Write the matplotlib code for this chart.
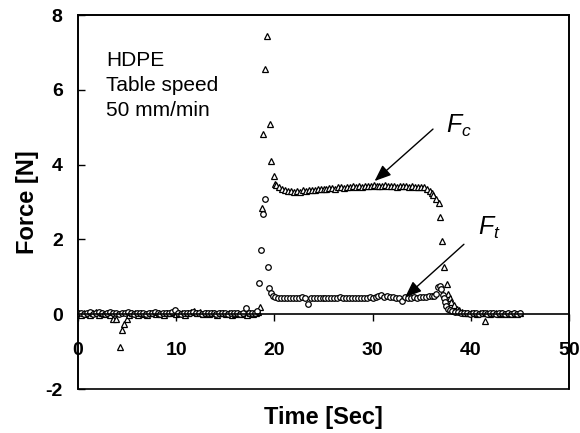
import matplotlib

matplotlib.use("Agg")
import matplotlib.pyplot as plt
from matplotlib.patches import Rectangle

plt.rcParams["font.family"] = ["Liberation Sans", "DejaVu Sans"]
plt.rcParams["mathtext.fontset"] = "custom"
plt.rcParams["mathtext.it"] = "Liberation Sans:italic"
plt.rcParams["mathtext.rm"] = "Liberation Sans"
plt.rcParams["axes.unicode_minus"] = False

# cutting force Fc (triangles)
fc_time = [
    0.0, 0.3, 0.6, 0.9, 1.2, 1.5, 1.8, 2.1, 2.4, 2.7, 3.0, 3.3,
    3.6, 3.9, 4.3, 4.45, 4.7, 4.95, 5.2,
    5.5, 5.8, 6.1, 6.4, 6.7, 7.0, 7.3, 7.6, 7.9, 8.2,
    8.5, 8.8, 9.1, 9.4, 9.7, 10.0, 10.3, 10.6, 10.9, 11.2,
    11.5, 11.8, 12.1, 12.4, 12.7, 13.0, 13.3, 13.6, 13.9, 14.2,
    14.5, 14.8, 15.1, 15.4, 15.7, 16.0, 16.3, 16.6, 16.9, 17.2,
    17.5, 17.8, 18.1,
    18.3, 18.53, 18.7, 18.8, 19.07, 19.28, 19.52, 19.65, 19.93, 20.03,
    20.2, 20.5, 20.8, 21.1, 21.4, 21.7, 22.0, 22.3, 22.6, 22.9,
    23.2, 23.5, 23.8, 24.1, 24.4, 24.7, 25.0, 25.3, 25.6, 25.9,
    26.2, 26.5, 26.8, 27.1, 27.4, 27.7, 28.0, 28.3, 28.6, 28.9,
    29.2, 29.5, 29.8, 30.1, 30.4, 30.7, 31.0, 31.3, 31.6, 31.9,
    32.2, 32.5, 32.8, 33.1, 33.4, 33.7, 34.0, 34.3, 34.6, 34.9,
    35.2, 35.5, 35.8,
    36.0, 36.2, 36.5, 36.75, 36.86, 37.1, 37.3, 37.6, 37.7, 37.85,
    38.0, 38.3, 38.55, 38.8, 39.1, 39.4,
    39.7, 40.0, 40.3, 40.6, 40.9, 41.2, 41.45, 41.7, 42.0, 42.3,
    42.6, 42.9, 43.2, 43.5, 43.8, 44.1, 44.4, 44.7, 45.0,
]
fc_force = [
    0.03, -0.02, 0.04, 0.01, -0.03, 0.02, 0.05, -0.01, 0.02, 0.00, 0.04, -0.02,
    -0.12, -0.12, -0.88, -0.43, -0.27, -0.13, -0.02,
    0.02, 0.04, -0.01, 0.03, 0.01, -0.02, 0.03, 0.02, 0.00, 0.04,
    0.01, -0.02, 0.03, 0.02, 0.05, 0.00, 0.02, 0.04, -0.01, 0.03,
    0.06, 0.09, 0.03, 0.05, 0.01, 0.03, 0.00, 0.02, 0.04, -0.01,
    0.02, 0.03, 0.00, 0.02, -0.02, 0.01, 0.03, 0.00, 0.02, -0.01,
    0.02, 0.00, 0.03,
    0.05, 0.20, 2.83, 4.83, 6.55, 7.44, 5.08, 4.09, 3.70, 3.49,
    3.45, 3.40, 3.36, 3.33, 3.30, 3.29, 3.27, 3.29, 3.28, 3.31,
    3.30, 3.32, 3.33, 3.32, 3.35, 3.34, 3.36, 3.35, 3.37, 3.38,
    3.36, 3.39, 3.40, 3.38, 3.41, 3.40, 3.42, 3.41, 3.43, 3.40,
    3.42, 3.44, 3.43, 3.45, 3.42, 3.44, 3.43, 3.45, 3.42, 3.44,
    3.43, 3.41, 3.44, 3.42, 3.43, 3.41, 3.42, 3.40, 3.41, 3.39,
    3.40, 3.36, 3.30,
    3.24, 3.18, 3.08, 2.97, 2.60, 1.96, 1.27, 0.82, 0.53, 0.42,
    0.33, 0.24, 0.15, 0.10, 0.06, 0.04,
    0.03, 0.02, 0.04, 0.01, 0.03, 0.02, -0.18, 0.03, 0.01, 0.04,
    0.02, 0.00, 0.03, 0.01, 0.02, 0.00, 0.02, 0.01, 0.02,
]

# thrust force Ft (circles)
ft_time = [
    0.0, 0.3, 0.6, 0.9, 1.2, 1.5, 1.8, 2.1, 2.4, 2.7,
    3.0, 3.3, 3.6, 3.9, 4.2, 4.5, 4.8, 5.1, 5.4, 5.7,
    6.0, 6.3, 6.6, 6.9, 7.2, 7.5, 7.8, 8.1, 8.4, 8.7,
    9.0, 9.3, 9.6, 9.9, 10.2, 10.5, 10.8, 11.1, 11.4, 11.7,
    12.0, 12.3, 12.6, 12.9, 13.2, 13.5, 13.8, 14.1, 14.4, 14.7,
    15.0, 15.3, 15.6, 15.9, 16.2, 16.5, 16.8,
    17.1, 17.4, 17.7, 18.0, 18.25, 18.47, 18.64, 18.87, 19.04, 19.32,
    19.45, 19.65, 19.9,
    20.1, 20.4, 20.7, 21.0, 21.3, 21.6, 21.9, 22.2, 22.5, 22.8,
    23.1, 23.4, 23.7, 24.0, 24.3, 24.6, 24.9, 25.2, 25.5, 25.8,
    26.1, 26.4, 26.7, 27.0, 27.3, 27.6, 27.9, 28.2, 28.5, 28.8,
    29.1, 29.4, 29.7, 30.0, 30.3, 30.6, 30.9, 31.2, 31.5, 31.8,
    32.1, 32.4, 32.7, 33.0, 33.3, 33.6, 33.9, 34.2, 34.5, 34.8,
    35.1, 35.4, 35.7, 36.0, 36.3,
    36.5, 36.7, 36.85, 37.0, 37.15, 37.25, 37.4, 37.5, 37.7, 37.9,
    38.1, 38.4, 38.7, 39.0,
    39.3, 39.6, 39.9, 40.2, 40.5, 40.8, 41.1, 41.4, 41.7, 42.0,
    42.3, 42.6, 42.9, 43.2, 43.5, 43.8, 44.1, 44.4, 44.7, 45.0,
]
ft_force = [
    0.02, 0.04, 0.00, 0.03, 0.05, 0.01, 0.03, 0.06, 0.02, 0.00,
    0.03, 0.05, 0.02, 0.04, 0.01, 0.03, 0.02, 0.05, 0.03, 0.00,
    0.04, 0.02, 0.03, 0.01, 0.04, 0.02, 0.05, 0.03, 0.01, 0.04,
    0.02, 0.03, 0.05, 0.10, 0.03, 0.01, 0.04, 0.02, 0.03, 0.05,
    0.02, 0.04, 0.01, 0.03, 0.02, 0.04, 0.03, 0.01, 0.03, 0.02,
    0.04, 0.01, 0.03, 0.02, 0.04, 0.01, 0.03,
    0.17, 0.03, 0.02, 0.04, 0.08, 0.84, 1.71, 2.67, 3.09, 1.26,
    0.70, 0.57, 0.48,
    0.45, 0.44, 0.43, 0.44, 0.43, 0.44, 0.43, 0.44, 0.43, 0.45,
    0.44, 0.27, 0.43, 0.44, 0.43, 0.44, 0.43, 0.44, 0.43, 0.44,
    0.43, 0.44, 0.45, 0.43, 0.44, 0.43, 0.44, 0.43, 0.44, 0.43,
    0.44, 0.43, 0.45, 0.44, 0.46, 0.48, 0.51, 0.47, 0.48, 0.46,
    0.47, 0.44, 0.42, 0.36, 0.45, 0.44, 0.42, 0.45, 0.44, 0.46,
    0.47, 0.46, 0.48, 0.49, 0.50,
    0.53, 0.73, 0.75, 0.68, 0.52, 0.42, 0.32, 0.22, 0.13, 0.10,
    0.08, 0.06, 0.05, 0.03,
    0.02, 0.03, 0.01, 0.02, 0.03, 0.01, 0.02, 0.03, 0.00, 0.02,
    0.03, 0.01, 0.02, 0.03, 0.01, 0.02, 0.00, 0.02, 0.01, 0.02,
]

x_ticks = [0, 10, 20, 30, 40, 50]
y_ticks = [-2, 0, 2, 4, 6, 8]

fig = plt.figure(figsize=(5.8, 4.33), dpi=100)
ax = fig.add_axes([78 / 580, 1 - 389 / 433, (569 - 78) / 580, (389 - 15) / 433])

marker_kw = dict(linestyle="none", markerfacecolor="white", markeredgecolor="black",
                 markeredgewidth=0.9)
ax.plot(fc_time, fc_force, marker="^", markersize=5.0, **marker_kw)
ax.plot(ft_time, ft_force, marker="o", markersize=4.0, **marker_kw)

ax.set_xlim(0, 50)
ax.set_ylim(-2, 8)
ax.set_xticks(x_ticks)
ax.set_yticks(y_ticks)

# x axis runs through zero, box drawn around the whole plot area
ax.spines["bottom"].set_position(("data", 0))
for side in ["left", "right", "top", "bottom"]:
    ax.spines[side].set_linewidth(1.2)
ax.add_patch(Rectangle((0, 0), 1, 1, transform=ax.transAxes, fill=False,
                       linewidth=1.2, edgecolor="black", clip_on=False))

ax.tick_params(axis="x", direction="out", length=5, width=1, pad=15, labelsize=14)
ax.tick_params(axis="y", direction="in", length=5, width=1, pad=11, labelsize=14)
for lab in ax.get_xticklabels() + ax.get_yticklabels():
    lab.set_fontweight("bold")

ax.set_xlabel("Time [Sec]", fontsize=17, fontweight="bold")
ax.xaxis.set_label_coords(0.5, -0.045)
ax.set_ylabel("Force [N]", fontsize=17, fontweight="bold")
ax.yaxis.set_label_coords(-0.08, 0.5)

ax.text(0.057, 0.905, "HDPE\nTable speed\n50 mm/min", transform=ax.transAxes,
        fontsize=15, va="top", ha="left", linespacing=1.42)

arrow_kw = dict(arrowstyle="-|>,head_length=1.0,head_width=0.4", color="black",
                linewidth=1.0, shrinkA=0, shrinkB=0)
ax.annotate("", xy=(30.2, 3.56), xytext=(36.15, 4.95), arrowprops=arrow_kw)
ax.annotate("", xy=(33.3, 0.45), xytext=(39.3, 1.87), arrowprops=arrow_kw)
ax.text(37.5, 4.84, r"$F_c$", fontsize=18, ha="left", va="baseline")
ax.text(40.7, 2.11, r"$F_t$", fontsize=18, ha="left", va="baseline")

fig.savefig("out.png", dpi=100)
